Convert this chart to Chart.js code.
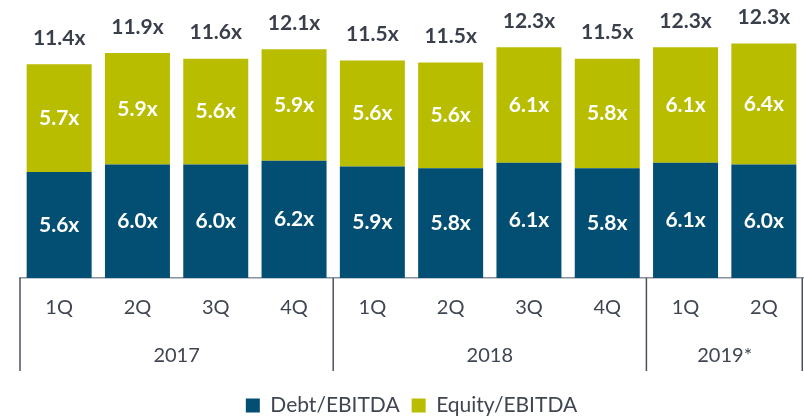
<!DOCTYPE html>
<html>
<head>
<meta charset="utf-8">
<script src="https://cdn.jsdelivr.net/npm/chart.js@4/dist/chart.umd.min.js"></script>
<style>
  html, body { margin: 0; padding: 0; background: #fff; }
  #wrap { width: 804px; height: 416px; }
</style>
</head>
<body>
<div id="wrap"><canvas id="leverageChart" width="804" height="416"></canvas></div>
<script>
// dữ liệu
const quarters = ["1Q", "2Q", "3Q", "4Q", "1Q", "2Q", "3Q", "4Q", "1Q", "2Q"];
const years = ["2017", "2018", "2019*"];
const yearSizes = [4, 4, 2];
const debtValues = [5.6, 6.0, 6.0, 6.2, 5.9, 5.8, 6.1, 5.8, 6.1, 6.0];
const equityValues = [5.7, 5.9, 5.6, 5.9, 5.6, 5.6, 6.1, 5.8, 6.1, 6.4];
const totalValues = [11.4, 11.9, 11.6, 12.1, 11.5, 11.5, 12.3, 11.5, 12.3, 12.3];

const BLUE = "#034f73";
const GREEN = "#b9bd00";
const TEXT = "#404552";
const LINE = "#4b505b";
const FONT = "Lato, 'Open Sans', sans-serif";

// nhãn trên cột + trong cột
const barLabels = {
    id: "barLabels",
    afterDatasetsDraw(chart) {
        const ctx = chart.ctx;
        ctx.save();
        ctx.textAlign = "center";
        ctx.textBaseline = "middle";
        ctx.font = "bold 21px " + FONT;
        chart.data.datasets.forEach((ds, di) => {
            const meta = chart.getDatasetMeta(di);
            meta.data.forEach((bar, i) => {
                ctx.fillStyle = "#ffffff";
                ctx.fillText(ds.data[i].toFixed(1) + "x", bar.x, (bar.y + bar.base) / 2);
            });
        });
        const top = chart.getDatasetMeta(1);
        top.data.forEach((bar, i) => {
            ctx.fillStyle = "#3a3f4c";
            ctx.fillText(totalValues[i].toFixed(1) + "x", bar.x, bar.y - 26);
        });
        ctx.restore();
    }
};

// năm + đường phân cách bên dưới trục x
const yearGroups = {
    id: "yearGroups",
    afterDraw(chart) {
        const ctx = chart.ctx;
        const x = chart.scales.x;
        const area = chart.chartArea;
        const step = x.getPixelForValue(1) - x.getPixelForValue(0);
        const y0 = area.bottom;
        const y1 = area.bottom + 93;
        ctx.save();
        ctx.strokeStyle = LINE;
        ctx.lineWidth = 1.5;
        ctx.fillStyle = TEXT;
        ctx.font = "20px " + FONT;
        ctx.textAlign = "center";
        ctx.textBaseline = "middle";
        let start = 0;
        years.forEach((yr, g) => {
            const end = start + yearSizes[g] - 1;
            const left = x.getPixelForValue(start) - step / 2;
            const right = x.getPixelForValue(end) + step / 2;
            ctx.beginPath();
            ctx.moveTo(left, y0);
            ctx.lineTo(left, y1);
            ctx.stroke();
            if (g === years.length - 1) {
                ctx.beginPath();
                ctx.moveTo(right - 0.75, y0);
                ctx.lineTo(right - 0.75, y1);
                ctx.stroke();
            }
            ctx.fillText(yr, (left + right) / 2, area.bottom + 78);
            start = end + 1;
        });
        ctx.restore();
    }
};

new Chart(document.getElementById("leverageChart"), {
    type: "bar",
    data: {
        labels: quarters,
        datasets: [
            { label: "Debt/EBITDA", data: debtValues, backgroundColor: BLUE },
            { label: "Equity/EBITDA", data: equityValues, backgroundColor: GREEN }
        ]
    },
    options: {
        responsive: false,
        animation: false,
        layout: { padding: { left: 20, right: 1, top: 0, bottom: -10 } },
        datasets: { bar: { categoryPercentage: 1, barPercentage: 0.83 } },
        scales: {
            x: {
                stacked: true,
                grid: { display: false, drawTicks: false },
                border: { display: true, color: "#8a8f99", width: 1.5 },
                ticks: { color: TEXT, font: { family: FONT, size: 20 }, padding: 18 },
                afterFit(scale) { scale.height = 105; }
            },
            y: {
                stacked: true,
                display: false,
                min: 0,
                max: 14.7
            }
        },
        plugins: {
            legend: {
                position: "bottom",
                labels: {
                    color: TEXT,
                    font: { family: FONT, size: 21 },
                    boxWidth: 14,
                    boxHeight: 14,
                    padding: 12
                }
            },
            tooltip: { enabled: false }
        }
    },
    plugins: [barLabels, yearGroups]
});
</script>
</body>
</html>
